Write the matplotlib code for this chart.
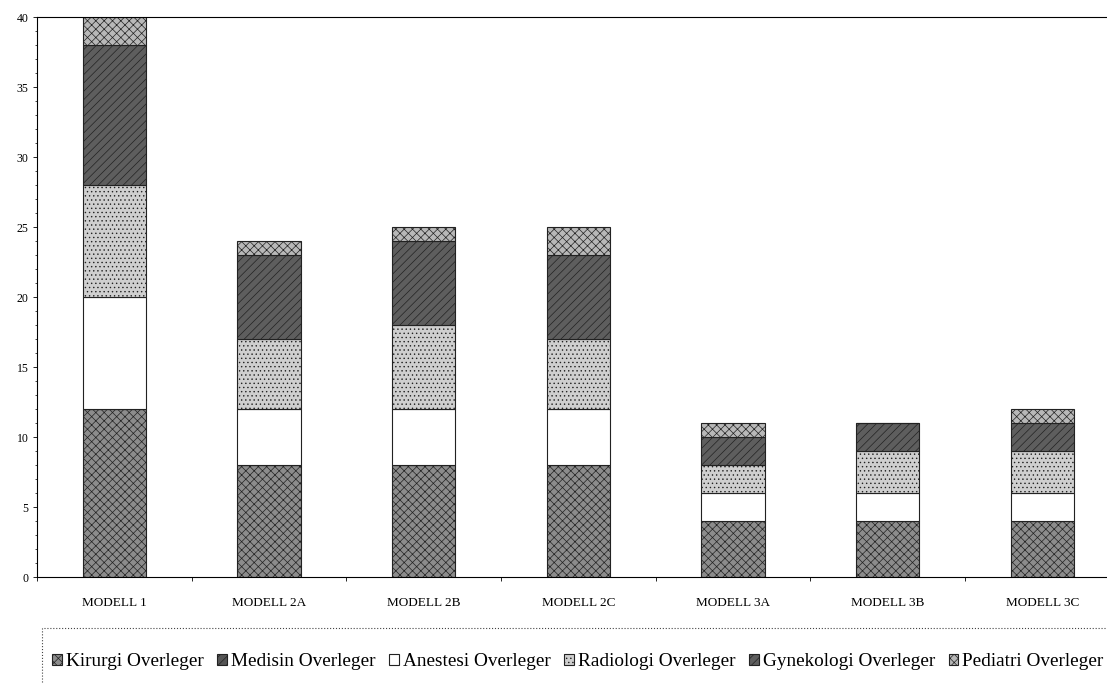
import numpy as np
import matplotlib
matplotlib.use("Agg")
import matplotlib.pyplot as plt
from matplotlib.patches import Rectangle

# ================= DATA =================
modeller = ["MODELL 1", "MODELL 2A", "MODELL 2B", "MODELL 2C", "MODELL 3A", "MODELL 3B", "MODELL 3C"]
kirurgi = [12, 8, 8, 8, 4, 4, 4]
medisin = [0, 0, 0, 0, 0, 0, 0]
anestesi = [8, 4, 4, 4, 2, 2, 2]
radiologi = [8, 5, 6, 5, 2, 3, 3]
gynekologi = [10, 6, 6, 6, 2, 2, 2]
pediatri = [2, 1, 1, 2, 1, 0, 1]

serier = [
    ("Kirurgi Overleger", kirurgi, "#8c8c8c", "xxxx"),
    ("Medisin Overleger", medisin, "#555555", "////"),
    ("Anestesi Overleger", anestesi, "#ffffff", None),
    ("Radiologi Overleger", radiologi, "#cfcfcf", "...."),
    ("Gynekologi Overleger", gynekologi, "#5e5e5e", "////"),
    ("Pediatri Overleger", pediatri, "#b8b8b8", "xxxx"),
]

plt.rcParams["font.family"] = ["Liberation Serif", "DejaVu Serif"]
plt.rcParams["hatch.linewidth"] = 0.5
plt.rcParams["hatch.color"] = "#333333"

fig = plt.figure(figsize=(11.07, 6.83), dpi=100)
ax = fig.add_axes([0.0334, 0.155, 0.978, 0.82])

x = np.arange(len(modeller))
bunn = np.zeros(len(modeller))
for navn, verdier, farge, monster in serier:
    ax.bar(x, verdier, width=0.41, bottom=bunn, color=farge, edgecolor="#222222",
           linewidth=0.8, hatch=monster, label=navn)
    bunn += np.array(verdier)

ax.set_xlim(-0.5, len(modeller) - 0.5)
ax.set_ylim(0, 40)
ax.set_yticks(range(0, 41, 5))
ax.set_yticks(range(0, 41, 1), minor=True)
ax.set_xticks(x)
ax.set_xticklabels(modeller, fontsize=9.5)
ax.set_xticks(np.arange(-0.5, len(modeller), 1), minor=True)
ax.tick_params(axis="x", which="major", length=0, pad=14)
ax.tick_params(axis="x", which="minor", length=3, width=0.6)
ax.tick_params(axis="y", which="major", labelsize=8.5, length=3, width=0.6, pad=3)
ax.tick_params(axis="y", which="minor", length=1.5, width=0.5)
ax.spines["right"].set_visible(False)
for s in ["left", "bottom", "top"]:
    ax.spines[s].set_linewidth(0.8)

# dotted box around legend
boks = Rectangle((42 / 1107, -0.05), 1.0, 1 - 628 / 683 + 0.05, transform=fig.transFigure,
                 fill=False, linestyle=":", edgecolor="#444444", linewidth=0.8)
fig.patches.append(boks)

leg = fig.legend(loc="center left", bbox_to_anchor=(52 / 1107, 1 - 662 / 683), ncol=6, fontsize=13.9,
                 handlelength=0.5, handleheight=0.5, handletextpad=0.2,
                 columnspacing=0.72, borderpad=0, borderaxespad=0, frameon=False)

fig.savefig("out.png", dpi=100)
